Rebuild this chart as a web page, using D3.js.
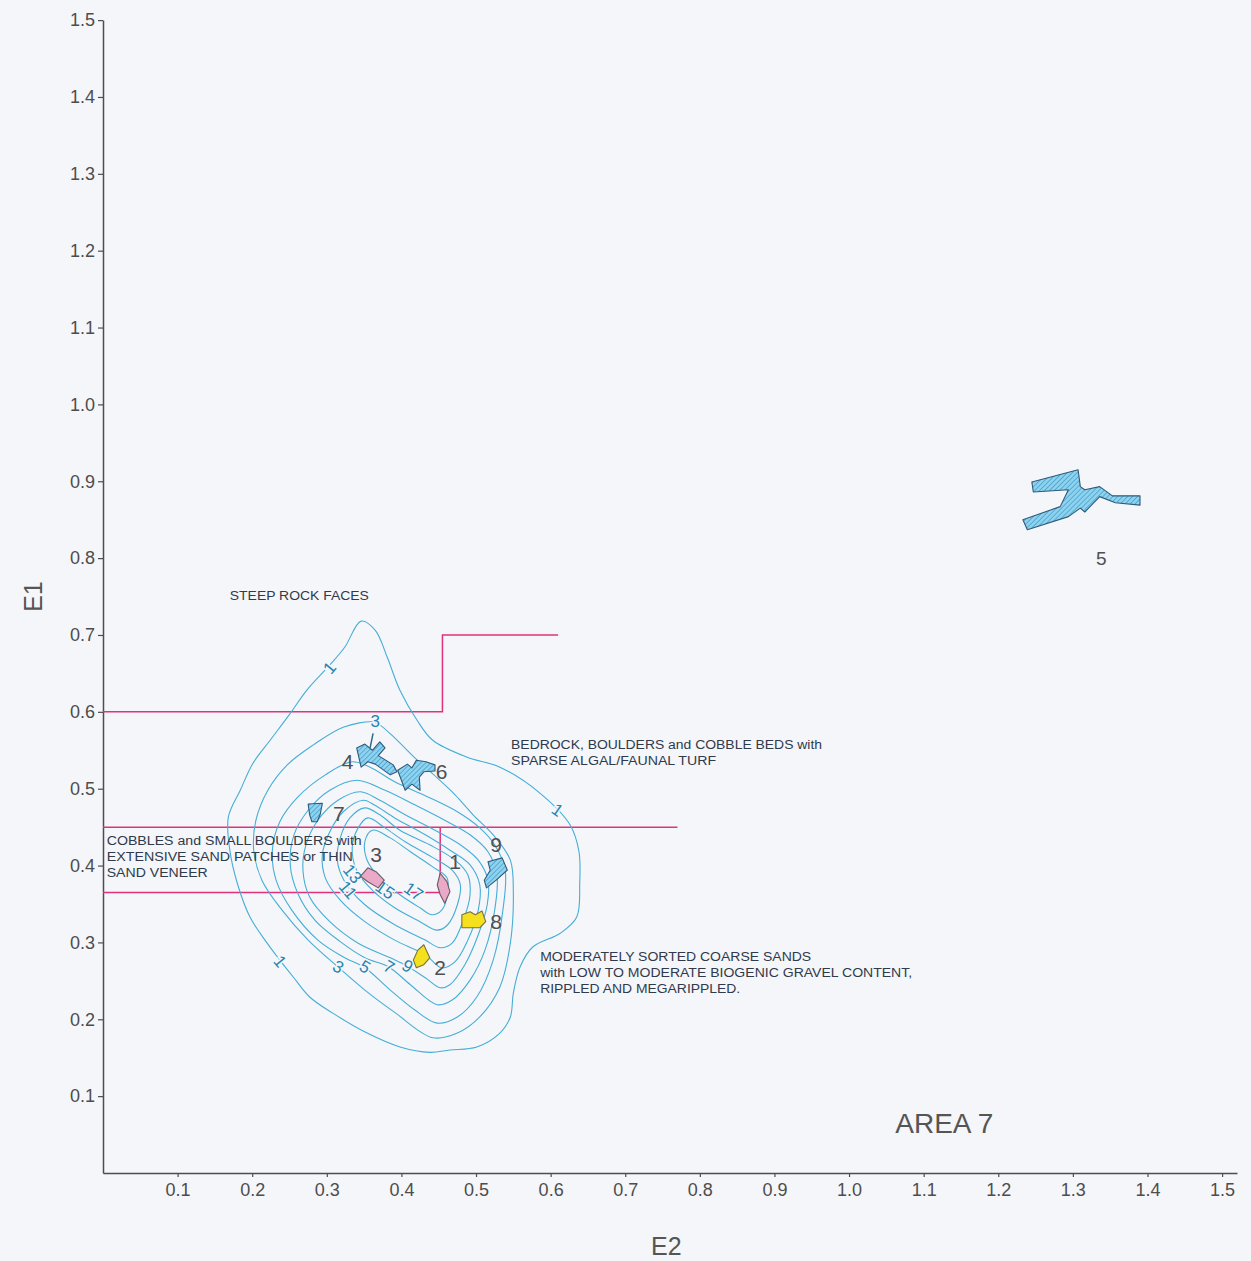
<!DOCTYPE html>
<html><head><meta charset="utf-8">
<script src="https://cdn.jsdelivr.net/npm/d3@7"></script>
<style>body{margin:0;background:#f5f6fa;} svg{display:block}</style>
</head><body><svg id="c" width="1251" height="1261"></svg>
<script>
// ---------- DATA (E2, E1 units) ----------
const xTicks = [0.1,0.2,0.3,0.4,0.5,0.6,0.7,0.8,0.9,1.0,1.1,1.2,1.3,1.4,1.5];
const yTicks = [0.1,0.2,0.3,0.4,0.5,0.6,0.7,0.8,0.9,1.0,1.1,1.2,1.3,1.4,1.5];

const contour1 = [[0.346,0.718],[0.365,0.706],[0.381,0.671],[0.398,0.628],[0.421,0.589],[0.442,0.563],[0.488,0.541],[0.532,0.528],[0.586,0.494],[0.626,0.453],[0.638,0.418],[0.639,0.377],[0.635,0.333],[0.613,0.312],[0.576,0.294],[0.559,0.268],[0.550,0.234],[0.546,0.203],[0.532,0.182],[0.501,0.164],[0.465,0.160],[0.438,0.157],[0.398,0.164],[0.354,0.182],[0.308,0.208],[0.277,0.229],[0.255,0.255],[0.237,0.277],[0.220,0.299],[0.197,0.333],[0.180,0.377],[0.170,0.420],[0.168,0.463],[0.184,0.498],[0.201,0.533],[0.224,0.563],[0.251,0.598],[0.273,0.628],[0.304,0.661],[0.324,0.684]];
const contour3 = [[0.362,0.587],[0.322,0.580],[0.282,0.557],[0.247,0.531],[0.221,0.498],[0.205,0.459],[0.202,0.420],[0.213,0.381],[0.240,0.342],[0.275,0.303],[0.315,0.268],[0.351,0.238],[0.391,0.209],[0.442,0.176],[0.475,0.182],[0.505,0.203],[0.532,0.242],[0.546,0.299],[0.550,0.364],[0.546,0.407],[0.523,0.440],[0.496,0.466],[0.472,0.492],[0.448,0.514],[0.418,0.540],[0.391,0.566],[0.371,0.583]];
const contour5 = [[0.334,0.535],[0.298,0.518],[0.261,0.489],[0.237,0.457],[0.227,0.420],[0.232,0.381],[0.253,0.342],[0.288,0.303],[0.324,0.280],[0.351,0.267],[0.385,0.238],[0.418,0.212],[0.448,0.195],[0.475,0.203],[0.501,0.229],[0.523,0.277],[0.536,0.342],[0.539,0.394],[0.525,0.427],[0.505,0.449],[0.475,0.470],[0.434,0.490],[0.391,0.509],[0.358,0.528]];
const contour7 = [[0.340,0.511],[0.304,0.498],[0.275,0.472],[0.256,0.440],[0.251,0.401],[0.261,0.364],[0.284,0.329],[0.318,0.301],[0.351,0.280],[0.383,0.268],[0.412,0.245],[0.448,0.219],[0.468,0.225],[0.492,0.251],[0.512,0.290],[0.525,0.342],[0.528,0.388],[0.516,0.418],[0.492,0.440],[0.458,0.459],[0.418,0.479],[0.378,0.498]];
const contour9 = [[0.345,0.496],[0.315,0.485],[0.288,0.459],[0.272,0.427],[0.268,0.394],[0.277,0.359],[0.304,0.327],[0.342,0.299],[0.385,0.280],[0.408,0.269],[0.432,0.254],[0.452,0.241],[0.465,0.245],[0.485,0.271],[0.503,0.310],[0.515,0.349],[0.516,0.381],[0.503,0.407],[0.479,0.427],[0.445,0.446],[0.405,0.466],[0.371,0.485]];
const contour11 = [[0.349,0.485],[0.322,0.470],[0.304,0.444],[0.294,0.414],[0.298,0.384],[0.318,0.355],[0.351,0.327],[0.391,0.303],[0.432,0.284],[0.454,0.267],[0.472,0.275],[0.489,0.303],[0.503,0.342],[0.505,0.375],[0.492,0.401],[0.465,0.420],[0.432,0.440],[0.391,0.462],[0.365,0.478]];
const contour13 = [[0.351,0.475],[0.331,0.462],[0.318,0.436],[0.314,0.407],[0.324,0.379],[0.351,0.349],[0.391,0.323],[0.432,0.303],[0.452,0.293],[0.468,0.299],[0.483,0.329],[0.492,0.362],[0.489,0.388],[0.472,0.407],[0.438,0.427],[0.398,0.446],[0.371,0.466]];
const contour15 = [[0.355,0.462],[0.342,0.449],[0.334,0.423],[0.340,0.394],[0.361,0.368],[0.391,0.345],[0.425,0.327],[0.448,0.316],[0.462,0.323],[0.475,0.349],[0.479,0.375],[0.468,0.394],[0.441,0.411],[0.405,0.431],[0.378,0.449]];
const contour17 = [[0.361,0.446],[0.351,0.431],[0.354,0.407],[0.371,0.384],[0.398,0.362],[0.425,0.345],[0.441,0.336],[0.454,0.342],[0.462,0.364],[0.461,0.384],[0.441,0.399],[0.412,0.418],[0.385,0.436]];
const contourSet = [contour1,contour3,contour5,contour7,contour9,contour11,contour13,contour15,contour17];

// contour labels: [text, E2, E1, angle]
const contourLabels = [["1",0.304,0.657,-50],["1",0.609,0.472,35],["1",0.237,0.275,50],["3",0.365,0.587,0],
  ["3",0.315,0.268,30],["5",0.351,0.268,30],["7",0.383,0.268,30],["9",0.408,0.269,30],
  ["13",0.334,0.389,50],["11",0.328,0.368,50],["15",0.378,0.368,35],["17",0.416,0.366,35]];

// boundary lines between habitat classes
const boundaryA = [[0,0.6],[0.455,0.6],[0.455,0.7],[0.61,0.7]];
const boundaryB = [[0,0.45],[0.77,0.45]];
const boundaryC = [[0,0.365],[0.452,0.365],[0.452,0.45]];

// station group shapes
const shape1 = [[0.452,0.390],[0.461,0.379],[0.465,0.366],[0.458,0.351],[0.452,0.362],[0.448,0.375]];
const shape2 = [[0.422,0.290],[0.430,0.297],[0.438,0.280],[0.430,0.271],[0.420,0.267],[0.416,0.277]];
const shape3 = [[0.345,0.386],[0.355,0.397],[0.366,0.392],[0.377,0.381],[0.369,0.371],[0.355,0.379]];
const shape4 = [[0.340,0.553],[0.351,0.558],[0.361,0.550],[0.371,0.561],[0.378,0.553],[0.369,0.543],[0.389,0.531],[0.394,0.522],[0.385,0.518],[0.365,0.532],[0.355,0.535],[0.346,0.528]];
const shape4stub = [[0.358,0.553],[0.362,0.572]];
const shape5 = [[1.245,0.899],[1.307,0.915],[1.310,0.893],[1.316,0.889],[1.336,0.893],[1.353,0.881],[1.390,0.881],[1.390,0.869],[1.357,0.872],[1.336,0.880],[1.323,0.867],[1.316,0.860],[1.310,0.865],[1.294,0.854],[1.239,0.837],[1.233,0.850],[1.283,0.867],[1.294,0.889],[1.247,0.886]];
const shape6 = [[0.395,0.524],[0.408,0.532],[0.414,0.527],[0.420,0.537],[0.433,0.535],[0.445,0.531],[0.445,0.523],[0.430,0.522],[0.424,0.515],[0.425,0.498],[0.414,0.506],[0.405,0.498],[0.400,0.511]];
const shape7 = [[0.275,0.480],[0.294,0.481],[0.291,0.466],[0.287,0.457],[0.280,0.457],[0.277,0.466]];
const shape8 = [[0.481,0.336],[0.492,0.340],[0.499,0.336],[0.508,0.341],[0.513,0.327],[0.505,0.319],[0.481,0.319]];
const shape9 = [[0.516,0.405],[0.535,0.410],[0.542,0.394],[0.527,0.381],[0.514,0.371],[0.511,0.381],[0.519,0.394]];
const shapeKinds = [["pink",shape1],["yellow",shape2],["pink",shape3],["hatch",shape4],["hatch",shape5],["hatch",shape6],["hatch",shape7],["yellow",shape8],["hatch",shape9]];

// station group labels [text, E2, E1]
const groupLabels = [["1",0.472,0.405],["2",0.452,0.267],["3",0.366,0.414],["4",0.328,0.535],["5",1.338,0.800],["6",0.454,0.523],["7",0.316,0.468],["8",0.527,0.327],["9",0.527,0.427]];

// habitat annotations [text, E2, E1 (baseline), width px]
const notes = [["STEEP ROCK FACES",0.170,0.746,139],
  ["BEDROCK, BOULDERS and COBBLE BEDS with",0.547,0.552,311],
  ["SPARSE ALGAL/FAUNAL TURF",0.547,0.531,205],
  ["COBBLES and SMALL BOULDERS with",0.005,0.427,255],
  ["EXTENSIVE SAND PATCHES or THIN",0.005,0.406,246],
  ["SAND VENEER",0.005,0.385,101],
  ["MODERATELY SORTED COARSE SANDS",0.586,0.276,271],
  ["with LOW TO MODERATE BIOGENIC GRAVEL CONTENT,",0.586,0.255,372],
  ["RIPPLED AND MEGARIPPLED.",0.586,0.234,200]];

// ---------- DRAW ----------
const svg = d3.select("#c");
const FONT = "'Liberation Sans', Arial, sans-serif";
svg.append("rect").attr("width",1251).attr("height",1261).attr("fill","#f5f6fa");

const defs = svg.append("defs");
const pat = defs.append("pattern").attr("id","hatch").attr("patternUnits","userSpaceOnUse")
  .attr("width",3.5).attr("height",3.5).attr("patternTransform","rotate(45)");
pat.append("rect").attr("width",3.5).attr("height",3.5).attr("fill","#8fd2ee");
pat.append("line").attr("x1",0).attr("y1",0).attr("x2",0).attr("y2",3.5).attr("stroke","#3d9ccc").attr("stroke-width",1.4);

const x = d3.scaleLinear().domain([0,1.52]).range([103,1237]);
const y = d3.scaleLinear().domain([0,1.5]).range([1173,20.1]);

// axes
const ax = svg.append("g").attr("transform",`translate(0,${y(0)})`)
  .call(d3.axisBottom(x).tickValues(xTicks).tickSize(4).tickSizeOuter(0).tickPadding(6).tickFormat(d3.format(".1f")));
const ay = svg.append("g").attr("transform",`translate(${x(0)},0)`)
  .call(d3.axisLeft(y).tickValues(yTicks).tickSize(5).tickSizeOuter(0).tickPadding(3).tickFormat(d3.format(".1f")));
[ax,ay].forEach(g=>{
  g.select(".domain").attr("stroke","#4d4d4d").attr("stroke-width",1.5);
  g.selectAll(".tick line").attr("stroke","#4d4d4d").attr("stroke-width",1.2);
  g.selectAll(".tick text").attr("fill","#4d4d4d").attr("font-size",18).attr("font-family",FONT);
});

svg.append("text").attr("transform",`translate(42,${y(0.75)}) rotate(-90)`).attr("text-anchor","middle")
  .attr("font-family",FONT).attr("font-size",25).attr("fill","#555").text("E1");
svg.append("text").attr("x",x(0.755)).attr("y",1255).attr("text-anchor","middle")
  .attr("font-family",FONT).attr("font-size",25).attr("fill","#555").text("E2");

const line = d3.line().x(d=>x(d[0])).y(d=>y(d[1]));

// boundary lines
[boundaryA,boundaryB,boundaryC].forEach(b=>{
  svg.append("path").attr("d",line(b)).attr("fill","none").attr("stroke","#e0327c").attr("stroke-width",1.5);
});

// contours
const cline = d3.line().x(d=>x(d[0])).y(d=>y(d[1])).curve(d3.curveCatmullRomClosed.alpha(0.5));
svg.append("g").selectAll("path").data(contourSet).join("path")
  .attr("d",d=>cline(d)).attr("fill","none").attr("stroke","#45aed6").attr("stroke-width",1.1);

// contour labels
svg.append("g").selectAll("text").data(contourLabels).join("text")
  .attr("transform",d=>`translate(${x(d[1])},${y(d[2])}) rotate(${d[3]})`)
  .attr("text-anchor","middle").attr("dominant-baseline","central")
  .attr("font-family",FONT).attr("font-size",17).attr("fill","#2484b0")
  .attr("stroke","#f5f6fa").attr("stroke-width",3).attr("paint-order","stroke")
  .text(d=>d[0]);

// station shapes
const fills = {pink:"#eaa9c7", yellow:"#f4e01c", hatch:"url(#hatch)"};
const strokes = {pink:"#6a5a66", yellow:"#7a7040", hatch:"#2f5a7a"};
svg.append("path").attr("d",line(shape4stub)).attr("stroke","#2f6a8a").attr("stroke-width",1.5);
svg.append("g").selectAll("path").data(shapeKinds).join("path")
  .attr("d",d=>line(d[1])+"Z").attr("fill",d=>fills[d[0]]).attr("stroke",d=>strokes[d[0]]).attr("stroke-width",1.1)
  .attr("stroke-linejoin","round");

// group labels
svg.append("g").selectAll("text").data(groupLabels).join("text")
  .attr("x",d=>x(d[1])).attr("y",d=>y(d[2])).attr("text-anchor","middle").attr("dominant-baseline","central")
  .attr("font-family",FONT).attr("font-size",d=>d[0]==="5"?19:21).attr("fill","#505050").text(d=>d[0]);

// annotations
svg.append("g").selectAll("text").data(notes).join("text")
  .attr("x",d=>x(d[1])).attr("y",d=>y(d[2])).attr("textLength",d=>d[3]).attr("lengthAdjust","spacingAndGlyphs")
  .attr("font-family",FONT).attr("font-size",12).attr("fill","#2f3a4a").text(d=>d[0]);

svg.append("text").attr("x",x(1.062)).attr("y",y(0.052)).attr("font-family",FONT).attr("font-size",28)
  .attr("fill","#555").text("AREA 7");
</script></body></html>
